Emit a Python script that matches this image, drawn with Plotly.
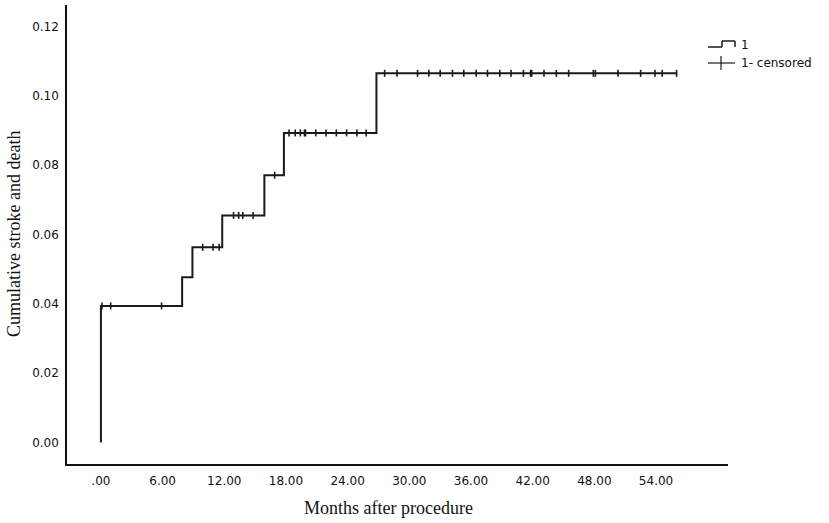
import numpy as np
import plotly.graph_objects as go

# Step (event) times in months and cumulative stroke and death values
event_months = [0.0, 0.0, 7.9, 8.9, 11.8, 15.9, 17.8, 26.8, 56.0]
event_cum = [0.0, 0.0394, 0.0477, 0.0563, 0.0655, 0.0771, 0.0893, 0.1065, 0.1065]

# Censored observation times (months)
censored_months = [0.1, 0.95, 5.9,
                   9.9, 10.9, 11.5,
                   12.9, 13.4, 13.8, 14.8,
                   16.9,
                   18.3, 18.9, 19.4, 19.8, 19.9, 20.9, 21.9, 22.9, 23.9, 24.9, 25.8,
                   27.6, 28.8, 30.8, 31.9, 33.0, 34.2, 35.3, 36.5, 37.6, 38.8, 39.9,
                   41.1, 41.8, 41.9, 43.1, 44.3, 45.5, 47.9, 48.1, 50.3, 52.5,
                   53.9, 54.6, 56.0]

x_ticks = [0, 6, 12, 18, 24, 30, 36, 42, 48, 54]
x_tick_labels = [".00", "6.00", "12.00", "18.00", "24.00", "30.00", "36.00", "42.00", "48.00", "54.00"]
y_ticks = [0.0, 0.02, 0.04, 0.06, 0.08, 0.10, 0.12]
y_tick_labels = ["0.00", "0.02", "0.04", "0.06", "0.08", "0.10", "0.12"]

# Value of the step curve at each censored time
ev_x = np.array(event_months)
ev_y = np.array(event_cum)
idx = np.searchsorted(ev_x, np.array(censored_months), side="right") - 1
censored_cum = ev_y[idx]

LINE = "#1a1a1a"

fig = go.Figure()
fig.add_trace(go.Scatter(
    x=event_months, y=event_cum, mode="lines", line_shape="hv",
    line=dict(color=LINE, width=2), name="1", showlegend=False,
    hoverinfo="skip"))
fig.add_trace(go.Scatter(
    x=censored_months, y=censored_cum, mode="markers",
    marker=dict(symbol="line-ns-open", size=5, color=LINE,
                line=dict(color=LINE, width=1.6)),
    name="1- censored", showlegend=False, hoverinfo="skip"))

# Manual legend (in pixel-like paper coordinates)
W, H = 829, 523
ml, mr, mt, mb = 67, 101, 5, 59
pw, ph = W - ml - mr, H - mt - mb

def px(x):
    return (x - ml) / pw

def py(y):
    return (H - mb - y) / ph

shapes = []
# step symbol
for (x0, y0, x1, y1) in [(708, 47, 722, 47), (722, 47, 722, 41), (722, 41, 735, 41), (735, 41, 735, 47)]:
    shapes.append(dict(type="line", xref="paper", yref="paper",
                       x0=px(x0), y0=py(y0), x1=px(x1), y1=py(y1),
                       line=dict(color=LINE, width=1.5)))
# cross symbol
shapes.append(dict(type="line", xref="paper", yref="paper",
                   x0=px(708), y0=py(63), x1=px(735), y1=py(63),
                   line=dict(color=LINE, width=1.2)))
shapes.append(dict(type="line", xref="paper", yref="paper",
                   x0=px(721), y0=py(56), x1=px(721), y1=py(70),
                   line=dict(color=LINE, width=1.2)))

annotations = [
    dict(text="1", xref="paper", yref="paper", x=px(739), y=py(45),
         xanchor="left", yanchor="middle", showarrow=False,
         font=dict(family="DejaVu Sans", size=12, color="#111")),
    dict(text="1- censored", xref="paper", yref="paper", x=px(739), y=py(63),
         xanchor="left", yanchor="middle", showarrow=False,
         font=dict(family="DejaVu Sans", size=12, color="#111")),
    dict(text="Months after procedure", xref="paper", yref="paper",
         x=px(388), y=py(508), xanchor="center", yanchor="middle", showarrow=False,
         font=dict(family="Liberation Serif", size=18, color="#111")),
    dict(text="Cumulative stroke and death", xref="paper", yref="paper",
         x=px(14), y=py(234), xanchor="center", yanchor="middle", showarrow=False,
         textangle=-90,
         font=dict(family="Liberation Serif", size=18, color="#111")),
]

fig.update_layout(
    width=W, height=H,
    margin=dict(l=ml, r=mr, t=mt, b=mb, autoexpand=False),
    paper_bgcolor="white", plot_bgcolor="white",
    shapes=shapes, annotations=annotations,
    xaxis=dict(range=[-3.3, 61.0], tickvals=x_ticks, ticktext=x_tick_labels,
               showgrid=False, zeroline=False, showline=True, automargin=False,
               linecolor="#111", linewidth=1.5, ticks="", ticklabelstandoff=5,
               tickfont=dict(family="DejaVu Sans", size=12, color="#111")),
    yaxis=dict(range=[-0.0062, 0.1262], tickvals=y_ticks, ticktext=y_tick_labels,
               showgrid=False, zeroline=False, showline=True, automargin=False,
               linecolor="#111", linewidth=1.5, ticks="", ticklabelstandoff=4,
               tickfont=dict(family="DejaVu Sans", size=12, color="#111")),
)

fig.write_html("out.html", config={"displayModeBar": False},
               post_script="document.body.style.margin='0px';document.body.style.overflow='hidden';")
